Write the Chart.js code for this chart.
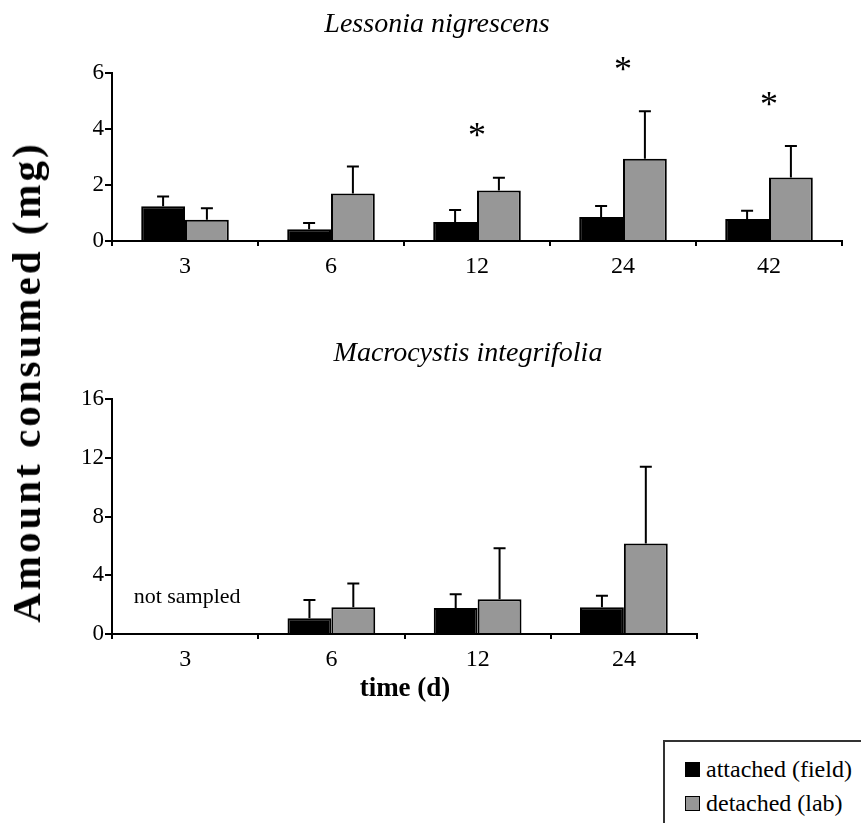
<!DOCTYPE html>
<html>
<head>
<meta charset="utf-8">
<script src="https://cdn.jsdelivr.net/npm/chart.js@4.4.1/dist/chart.umd.min.js"></script>
<style>
  html, body { margin:0; padding:0; background:#fff; }
  body { width:861px; height:823px; position:relative; overflow:hidden; font-family:'Liberation Serif','Times New Roman',serif; color:#000; }
  .abs { position:absolute; }
  .title { font-style:italic; font-size:28px; white-space:nowrap; transform:translate(-50%,-50%); }
  #ytitle { left:26px; top:382px; font-weight:bold; font-size:41px; letter-spacing:3px; white-space:nowrap; transform:translate(-50%,-50%) rotate(-90deg); }
  #xtitle { left:405px; top:687px; font-weight:bold; font-size:27px; white-space:nowrap; transform:translate(-50%,-50%); }
  #legend { left:663px; top:740px; width:220px; height:100px; border-top:2px solid #333; border-left:2px solid #333; }
  .li { position:absolute; left:20px; font-size:24px; white-space:nowrap; line-height:26px; }
  .sw { display:inline-block; width:13px; height:13px; border:1px solid #000; margin-right:6px; vertical-align:middle; position:relative; top:-2px; }
</style>
</head>
<body>
<div class="abs" style="left:0;top:0;width:861px;height:300px;"><canvas id="c1"></canvas></div>
<div class="abs" style="left:0;top:330px;width:861px;height:350px;"><canvas id="c2"></canvas></div>
<div class="abs title" style="left:437px;top:23px;">Lessonia nigrescens</div>
<div class="abs title" style="left:468px;top:352px;">Macrocystis integrifolia</div>
<div class="abs" id="ytitle">Amount consumed (mg)</div>
<div class="abs" id="xtitle">time (d)</div>
<div class="abs" id="legend">
  <div class="li" style="top:14px;"><span class="sw" style="background:#000;"></span>attached (field)</div>
  <div class="li" style="top:48px;"><span class="sw" style="background:#979797;"></span>detached (lab)</div>
</div>
<script>
// ---- data ----
const categoriesTop = ['3', '6', '12', '24', '42'];
const attachedTop = [1.24, 0.42, 0.68, 0.86, 0.79];
const attachedTopErr = [0.35, 0.22, 0.43, 0.39, 0.29];
const detachedTop = [0.76, 1.70, 1.80, 2.94, 2.27];
const detachedTopErr = [0.41, 0.96, 0.46, 1.69, 1.12];
const significantTop = [false, false, true, true, true];
const yTicksTop = [0, 2, 4, 6];

const categoriesBottom = ['3', '6', '12', '24'];
const attachedBottom = [null, 1.07, 1.77, 1.82];
const attachedBottomErr = [null, 1.24, 0.93, 0.79];
const detachedBottom = [null, 1.82, 2.36, 6.17];
const detachedBottomErr = [null, 1.61, 3.47, 5.22];
const yTicksBottom = [0, 4, 8, 12, 16];
const notSampledLabel = 'not sampled';

const GRAY = '#979797';
const FONT = "'Liberation Serif', serif";

const errorBarPlugin = {
  id: 'errorBars',
  afterDatasetsDraw(chart) {
    const ctx = chart.ctx;
    const y = chart.scales.y;
    ctx.save();
    ctx.strokeStyle = '#000';
    ctx.lineWidth = 2;
    chart.data.datasets.forEach((ds, di) => {
      const meta = chart.getDatasetMeta(di);
      meta.data.forEach((bar, i) => {
        const v = ds.data[i], e = ds.errors[i];
        if (v == null || e == null) return;
        const y0 = y.getPixelForValue(v), y1 = y.getPixelForValue(v + e);
        ctx.beginPath();
        ctx.moveTo(bar.x, y0); ctx.lineTo(bar.x, y1);
        ctx.moveTo(bar.x - 6, y1); ctx.lineTo(bar.x + 6, y1);
        ctx.stroke();
      });
    });
    const sig = chart.options.plugins.errorBars.significant;
    if (sig) {
      ctx.fillStyle = '#000';
      ctx.font = '36px ' + FONT;
      ctx.textAlign = 'center';
      ctx.textBaseline = 'middle';
      const m0 = chart.getDatasetMeta(0), m1 = chart.getDatasetMeta(1);
      const d0 = chart.data.datasets[0], d1 = chart.data.datasets[1];
      sig.forEach((s, i) => {
        if (!s) return;
        const top = Math.max(d0.data[i] + d0.errors[i], d1.data[i] + d1.errors[i]);
        const x = (m0.data[i].x + m1.data[i].x) / 2;
        ctx.fillText('*', x, y.getPixelForValue(top) - 40);
      });
    }
    const note = chart.options.plugins.errorBars.note;
    if (note) {
      ctx.fillStyle = '#000';
      ctx.font = '22px ' + FONT;
      ctx.textAlign = 'center';
      ctx.textBaseline = 'middle';
      const x = chart.scales.x.getPixelForValue(note.index);
      ctx.fillText(note.text, x + 2, y.getPixelForValue(note.value));
    }
    ctx.restore();
  }
};

function makeChart(id, cats, a, ae, d, de, ticks, max, padding, pluginOpts) {
  return new Chart(document.getElementById(id), {
    type: 'bar',
    data: {
      labels: cats,
      datasets: [
        { label: 'attached (field)', data: a, errors: ae, backgroundColor: '#000', borderColor: '#000', borderWidth: 2 },
        { label: 'detached (lab)', data: d, errors: de, backgroundColor: GRAY, borderColor: '#000', borderWidth: 2 }
      ]
    },
    options: {
      responsive: true, maintainAspectRatio: false, animation: false,
      layout: { padding: padding },
      datasets: { bar: { categoryPercentage: 0.6, barPercentage: 1.0 } },
      plugins: { legend: { display: false }, tooltip: { enabled: false }, errorBars: pluginOpts },
      scales: {
        x: {
          offset: true,
          grid: { offset: true, drawOnChartArea: false, drawTicks: true, tickLength: 5, color: '#000', lineWidth: 2 },
          border: { display: true, color: '#000', width: 2 },
          ticks: { color: '#000', font: { family: FONT, size: 24 }, padding: 6, maxRotation: 0 },
          afterFit(s) { s.height = 40; }
        },
        y: {
          min: 0, max: max,
          afterBuildTicks(s) { s.ticks = ticks.map(v => ({ value: v })); },
          grid: { drawOnChartArea: false, drawTicks: true, tickLength: 7, color: '#000', lineWidth: 2 },
          border: { display: true, color: '#000', width: 2 },
          ticks: { color: '#000', font: { family: FONT, size: 23 }, padding: 1 },
          afterFit(s) { s.width = 112; }
        }
      }
    },
    plugins: [errorBarPlugin]
  });
}

makeChart('c1', categoriesTop, attachedTop, attachedTopErr, detachedTop, detachedTopErr, yTicksTop, 6,
  { top: 73, left: 0, right: 19, bottom: 19 }, { significant: significantTop });
makeChart('c2', categoriesBottom, attachedBottom, attachedBottomErr, detachedBottom, detachedBottomErr, yTicksBottom, 16,
  { top: 69, left: 0, right: 164, bottom: 6 }, { note: { index: 0, value: 2.5, text: notSampledLabel } });
</script>
</body>
</html>
